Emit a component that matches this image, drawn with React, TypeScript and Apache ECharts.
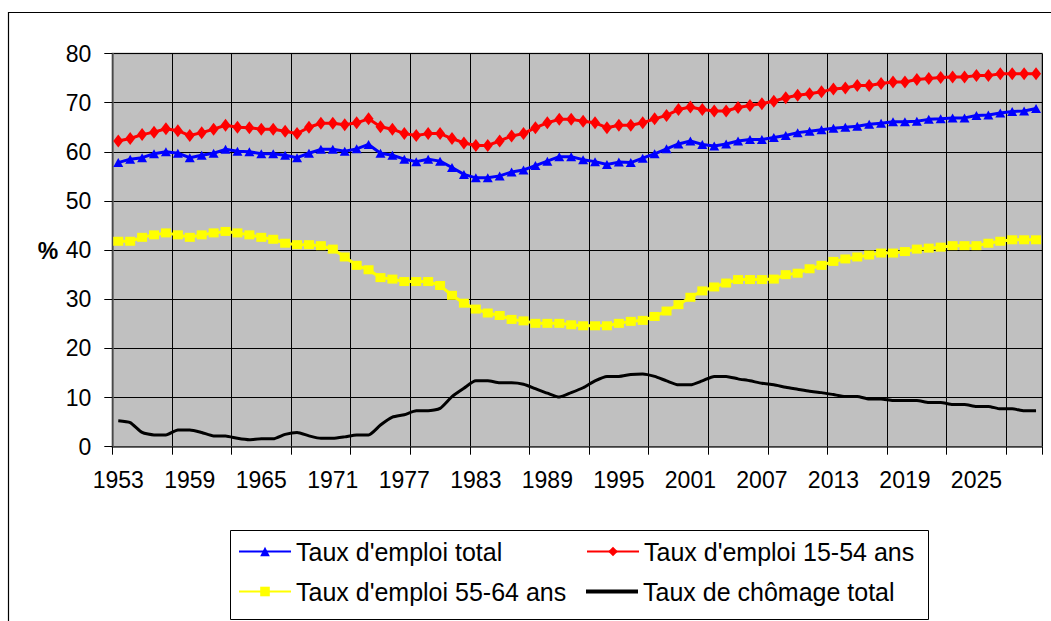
import React, { useEffect, useRef } from "react";
import * as echarts from "echarts";

const FIRST_YEAR = 1953;
const years: string[] = Array.from({ length: 78 }, (_, i) => String(FIRST_YEAR + i));

const emploiTotal: number[] = [
  57.8, 58.5, 58.8, 59.6, 60.0, 59.7, 58.8, 59.3, 59.7, 60.5,
  60.1, 60.0, 59.6, 59.6, 59.3, 58.8, 59.7, 60.5, 60.5, 60.1,
  60.6, 61.5, 59.7, 59.3, 58.5, 58.0, 58.5, 58.1, 56.8, 55.4,
  54.7, 54.7, 55.1, 55.9, 56.3, 57.2, 58.1, 59.0, 59.0, 58.4,
  58.0, 57.4, 57.9, 57.8, 58.7, 59.6, 60.6, 61.6, 62.2, 61.5,
  61.2, 61.6, 62.2, 62.5, 62.5, 62.9, 63.3, 63.9, 64.2, 64.5,
  64.8, 65.0, 65.2, 65.6, 65.8, 66.1, 66.1, 66.2, 66.6, 66.7,
  66.9, 66.9, 67.4, 67.5, 67.9, 68.2, 68.3, 68.8,
];

const emploi1554: number[] = [
  62.2, 62.7, 63.5, 64.0, 64.7, 64.3, 63.3, 63.9, 64.6, 65.4,
  65.0, 64.9, 64.6, 64.6, 64.2, 63.7, 65.0, 65.8, 65.8, 65.5,
  65.9, 66.7, 65.1, 64.6, 63.7, 63.3, 63.7, 63.7, 62.7, 61.8,
  61.3, 61.3, 62.2, 63.2, 63.7, 64.9, 65.9, 66.6, 66.6, 66.2,
  65.9, 64.9, 65.4, 65.4, 65.9, 66.7, 67.4, 68.6, 69.1, 68.6,
  68.3, 68.3, 69.0, 69.4, 69.8, 70.3, 71.0, 71.5, 71.8, 72.2,
  72.8, 73.0, 73.5, 73.5, 73.9, 74.2, 74.2, 74.7, 74.9, 75.1,
  75.2, 75.2, 75.5, 75.5, 75.9, 75.9, 75.9, 75.9,
];

const emploi5564: number[] = [
  41.8, 41.8, 42.6, 43.1, 43.5, 43.1, 42.6, 43.1, 43.5, 43.8,
  43.5, 43.1, 42.6, 42.2, 41.4, 41.1, 41.1, 40.9, 40.2, 38.6,
  36.9, 36.0, 34.4, 34.1, 33.6, 33.6, 33.6, 32.8, 30.8, 29.2,
  28.0, 27.2, 26.7, 25.9, 25.6, 25.1, 25.1, 25.1, 24.8, 24.6,
  24.6, 24.6, 25.1, 25.5, 25.7, 26.5, 27.6, 28.9, 30.4, 31.7,
  32.5, 33.3, 34.0, 34.0, 34.0, 34.1, 35.0, 35.3, 36.2, 36.9,
  37.7, 38.2, 38.6, 39.0, 39.4, 39.4, 39.7, 40.2, 40.4, 40.6,
  40.9, 40.9, 40.9, 41.4, 41.8, 42.1, 42.1, 42.1,
];

const chomageTotal: number[] = [
  5.3, 4.9, 2.9, 2.4, 2.4, 3.4, 3.4, 2.9, 2.2, 2.2,
  1.7, 1.4, 1.6, 1.6, 2.5, 2.9, 2.2, 1.7, 1.7, 2.0,
  2.4, 2.4, 4.4, 6.0, 6.5, 7.3, 7.3, 7.8, 10.2, 11.9,
  13.4, 13.4, 13.0, 13.0, 12.7, 11.8, 10.9, 10.1, 11.0, 12.0,
  13.4, 14.3, 14.3, 14.7, 14.8, 14.3, 13.4, 12.6, 12.6, 13.4,
  14.3, 14.3, 13.8, 13.4, 12.9, 12.6, 12.1, 11.7, 11.3, 11.0,
  10.6, 10.2, 10.2, 9.7, 9.7, 9.4, 9.4, 9.4, 9.0, 9.0,
  8.6, 8.6, 8.2, 8.2, 7.7, 7.7, 7.3, 7.3,
];

const seriesNames: string[] = [
  "Taux d'emploi total",
  "Taux d'emploi 15-54 ans",
  "Taux d'emploi 55-64 ans",
  "Taux de chômage total",
];

const FONT = "'Liberation Sans', Arial, sans-serif";

export default function App() {
  const ref = useRef<HTMLDivElement>(null);

  useEffect(() => {
    if (!ref.current) return;
    const chart = echarts.init(ref.current, undefined, { renderer: "svg" });

    const legendBase = {
      orient: "horizontal" as const,
      padding: 0,
      itemWidth: 52,
      itemHeight: 12,
      itemGap: 5,
      textStyle: { fontSize: 25, fontFamily: FONT, color: "#000" },
      selectedMode: false,
    };

    chart.setOption({
      animation: false,
      backgroundColor: "#fff",
      textStyle: { fontFamily: FONT },
      graphic: [
        {
          type: "rect",
          shape: { x: 8.5, y: 12.5, width: 1200, height: 1000 },
          style: { fill: "none", stroke: "#000", lineWidth: 1.2 },
          silent: true,
          z: -10,
        },
        {
          type: "rect",
          shape: { x: 230.5, y: 530.5, width: 698, height: 89 },
          style: { fill: "#fff", stroke: "#000", lineWidth: 1 },
          silent: true,
          z: -5,
        },
        {
          type: "text",
          x: 48,
          y: 251,
          style: {
            text: "%",
            fontSize: 23,
            fontWeight: "bold",
            fontFamily: FONT,
            fill: "#000",
            align: "center",
            verticalAlign: "middle",
          },
        },
      ],
      legend: [
        { ...legendBase, left: 238, top: 539, data: [seriesNames[0]] },
        { ...legendBase, left: 586, top: 539, data: [seriesNames[1]] },
        { ...legendBase, left: 238, top: 579, data: [seriesNames[2]] },
        {
          ...legendBase,
          left: 586,
          top: 579,
          itemHeight: 4,
          icon: "rect",
          data: [seriesNames[3]],
        },
      ],
      grid: {
        left: 112.3,
        top: 53.5,
        right: 9,
        bottom: 174.3,
        show: true,
        backgroundColor: "#C0C0C0",
        borderColor: "#808080",
        borderWidth: 1.5,
        containLabel: false,
      },
      xAxis: {
        type: "category",
        data: years,
        boundaryGap: true,
        axisLine: { show: true, lineStyle: { color: "#505050", width: 1.5 } },
        axisTick: {
          show: true,
          interval: 4,
          length: 8,
          lineStyle: { color: "#000", width: 1 },
        },
        splitLine: {
          show: true,
          interval: 4,
          lineStyle: { color: "#000", width: 1 },
        },
        axisLabel: {
          interval: 5,
          margin: 22,
          fontSize: 23,
          fontFamily: FONT,
          color: "#000",
        },
      },
      yAxis: {
        type: "value",
        min: 0,
        max: 80,
        interval: 10,
        axisLine: { show: true, lineStyle: { color: "#606060", width: 1.5 } },
        axisTick: { show: true, length: 8, lineStyle: { color: "#000", width: 1 } },
        splitLine: { show: true, lineStyle: { color: "#000", width: 1 } },
        axisLabel: {
          margin: 21,
          fontSize: 23,
          fontFamily: FONT,
          color: "#000",
        },
      },
      series: [
        {
          name: seriesNames[0],
          type: "line",
          data: emploiTotal,
          symbol: "triangle",
          symbolSize: [10, 9],
          showAllSymbol: true,
          lineStyle: { color: "#0000FF", width: 3 },
          itemStyle: { color: "#0000FF" },
        },
        {
          name: seriesNames[1],
          type: "line",
          data: emploi1554,
          symbol: "diamond",
          symbolSize: [10, 13],
          showAllSymbol: true,
          lineStyle: { color: "#FF0000", width: 3 },
          itemStyle: { color: "#FF0000" },
        },
        {
          name: seriesNames[2],
          type: "line",
          data: emploi5564,
          symbol: "rect",
          symbolSize: [10, 9],
          showAllSymbol: true,
          lineStyle: { color: "#FFFF00", width: 3 },
          itemStyle: { color: "#FFFF00" },
        },
        {
          name: seriesNames[3],
          type: "line",
          data: chomageTotal,
          symbol: "none",
          smooth: 0.2,
          lineStyle: { color: "#000000", width: 3 },
          itemStyle: { color: "#000000" },
        },
      ],
    });

    return () => {
      chart.dispose();
    };
  }, []);

  return (
    <div
      ref={ref}
      style={{ position: "fixed", left: 0, top: 0, width: 1051, height: 621 }}
    />
  );
}
